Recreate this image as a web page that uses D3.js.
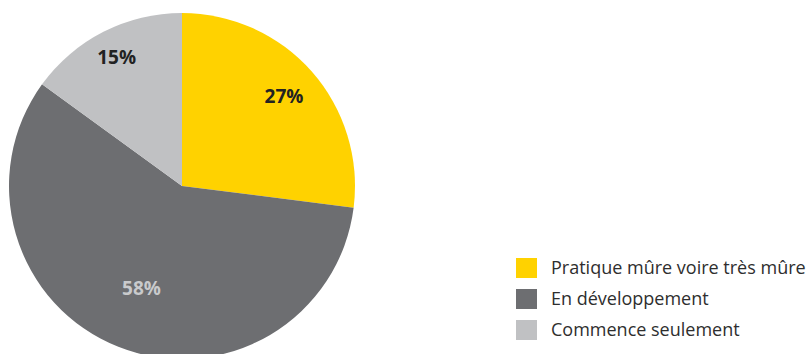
<!DOCTYPE html>
<html>
<head>
<meta charset="utf-8">
<script src="https://cdn.jsdelivr.net/npm/d3@7"></script>
<style>
  body { margin: 0; background: #fff; }
  svg { display: block; }
</style>
</head>
<body>
<div id="chart"></div>
<script>
const width = 811;
const height = 354;

// data
const categories = ["Pratique mûre voire très mûre", "En développement", "Commence seulement"];
const values = [27, 58, 15];
const colors = ["#FFD200", "#6D6E71", "#C0C1C3"];
const labelColors = ["#222222", "#C9CACC", "#222222"];
// label distance from centre, per slice
const labelRadius = [136, 110, 144];

const cx = 182, cy = 186, radius = 173;

const svg = d3.select("#chart")
  .append("svg")
  .attr("width", width)
  .attr("height", height);

const pie = d3.pie().sort(null).value(d => d);
const arcs = pie(values);
const arc = d3.arc().innerRadius(0).outerRadius(radius);

const g = svg.append("g").attr("transform", `translate(${cx},${cy})`);

g.selectAll("path")
  .data(arcs)
  .join("path")
  .attr("d", arc)
  .attr("fill", (d, i) => colors[i]);

// percentage labels
g.selectAll("text")
  .data(arcs)
  .join("text")
  .attr("transform", (d, i) => {
    const a = (d.startAngle + d.endAngle) / 2;
    const r = labelRadius[i];
    return `translate(${Math.sin(a) * r},${-Math.cos(a) * r})`;
  })
  .attr("text-anchor", "middle")
  .attr("dy", "0.35em")
  .attr("font-family", "'Open Sans', sans-serif")
  .attr("font-weight", "bold")
  .attr("font-size", 19)
  .attr("fill", (d, i) => labelColors[i])
  .text(d => d.data + "%");

// legend
const legend = svg.append("g").attr("transform", "translate(516,258)");
const rows = legend.selectAll("g")
  .data(categories)
  .join("g")
  .attr("transform", (d, i) => `translate(0,${i * 31})`);

rows.append("rect")
  .attr("width", 21)
  .attr("height", 20)
  .attr("fill", (d, i) => colors[i]);

rows.append("text")
  .attr("x", 35)
  .attr("y", 10)
  .attr("dy", "0.35em")
  .attr("font-family", "'Open Sans', sans-serif")
  .attr("font-size", 18)
  .attr("fill", "#2e2e2e")
  .text(d => d);
</script>
</body>
</html>
